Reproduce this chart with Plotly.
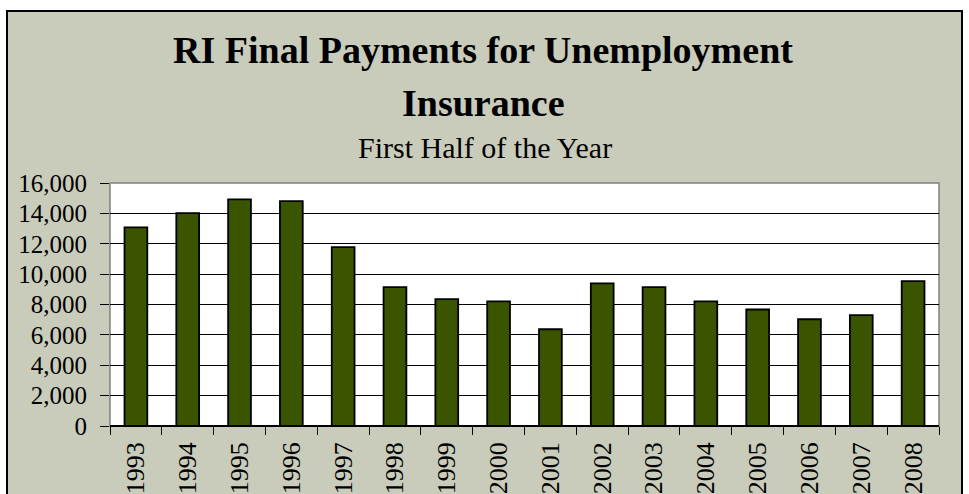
import plotly.graph_objects as go

years = ["1993", "1994", "1995", "1996", "1997", "1998", "1999", "2000",
         "2001", "2002", "2003", "2004", "2005", "2006", "2007", "2008"]
payments = [13080, 14020, 14920, 14810, 11780, 9140, 8350, 8200,
            6370, 9390, 9140, 8200, 7670, 7030, 7300, 9540]
y_ticks = [0, 2000, 4000, 6000, 8000, 10000, 12000, 14000, 16000]
y_tick_labels = ["0", "2,000", "4,000", "6,000", "8,000", "10,000", "12,000", "14,000", "16,000"]

title_line1 = "RI Final Payments for Unemployment"
title_line2 = "Insurance"
subtitle = "First Half of the Year"

BG = "#C9CCBB"
BAR = "#3A5400"
FONT = "Liberation Serif, Times New Roman, serif"

W, H = 969, 494
ML, MR, MT, MB = 110, 30, 183, 68
PW = W - ML - MR
PH = H - MT - MB


def px_x(px):
    return (px - ML) / PW


def px_y(py):
    return (H - MB - py) / PH


fig = go.Figure()
fig.add_trace(go.Bar(
    x=years, y=payments,
    marker=dict(color=BAR, line=dict(color="black", width=1.8)),
    width=0.44,
))

fig.update_layout(
    width=W, height=H,
    margin=dict(l=ML, r=MR, t=MT, b=MB, pad=0, autoexpand=False),
    paper_bgcolor="white",
    plot_bgcolor="white",
    showlegend=False,
    font=dict(family=FONT, color="black"),
    shapes=[
        dict(type="rect", xref="paper", yref="paper",
             x0=px_x(7), x1=px_x(962), y0=px_y(520), y1=px_y(11),
             fillcolor=BG, line=dict(color="black", width=2), layer="below"),
        dict(type="rect", xref="paper", yref="paper",
             x0=0, x1=1, y0=0, y1=1,
             fillcolor="white", line=dict(color="#808080", width=1.5), layer="below"),
    ],
    annotations=[
        dict(text="<b>" + title_line1 + "</b>", xref="paper", yref="paper",
             x=px_x(483), y=px_y(50), xanchor="center", yanchor="middle",
             showarrow=False, font=dict(size=38, family=FONT, color="black")),
        dict(text="<b>" + title_line2 + "</b>", xref="paper", yref="paper",
             x=px_x(483), y=px_y(103), xanchor="center", yanchor="middle",
             showarrow=False, font=dict(size=38, family=FONT, color="black")),
        dict(text=subtitle, xref="paper", yref="paper",
             x=px_x(485), y=px_y(147), xanchor="center", yanchor="middle",
             showarrow=False, font=dict(size=30, family=FONT, color="black")),
    ],
)

fig.update_xaxes(
    type="category",
    tickangle=-90,
    tickfont=dict(size=26, family=FONT, color="black"),
    ticks="outside", ticklen=8, tickcolor="black", tickwidth=1,
    tickson="boundaries",
    ticklabelstandoff=10,
    automargin=False,
    showgrid=False, showline=False, zeroline=False,
)
fig.update_yaxes(
    range=[0, 16000],
    tickvals=y_ticks, ticktext=y_tick_labels,
    tickfont=dict(size=25, family=FONT, color="black"),
    ticks="outside", ticklen=9, tickcolor="black", tickwidth=1,
    ticklabelstandoff=8,
    automargin=False,
    showgrid=True, gridcolor="black", gridwidth=1,
    zeroline=True, zerolinecolor="black", zerolinewidth=1.5,
    showline=False,
)

fig.write_html("out.html")
